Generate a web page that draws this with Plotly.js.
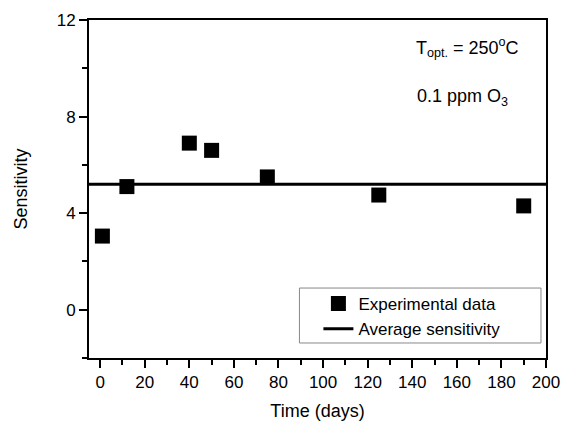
<!DOCTYPE html>
<html>
<head>
<meta charset="utf-8">
<script src="https://cdn.plot.ly/plotly-3.0.1.min.js"></script>
<style>html,body{margin:0;padding:0;background:#fff;}#chart{width:561px;height:422px;}</style>
</head>
<body>
<div id="chart"></div>
<script>
var timeDays = [1, 12, 40, 50, 75, 125, 190];
var sensitivity = [3.05, 5.1, 6.9, 6.6, 5.5, 4.75, 4.3];
var averageX = [-5, 200];
var averageY = [5.2, 5.2];
var xTicks = [0, 20, 40, 60, 80, 100, 120, 140, 160, 180, 200];
var yTicks = [0, 4, 8, 12];

var fontFam = 'Liberation Sans, Arial, sans-serif';
var traces = [
  {x: timeDays, y: sensitivity, mode: 'markers', type: 'scatter', name: 'Experimental data',
   marker: {symbol: 'square', size: 15, color: '#000'}, cliponaxis: false},
  {x: averageX, y: averageY, mode: 'lines', type: 'scatter', name: 'Average sensitivity',
   line: {color: '#000', width: 3}}
];
var axisCommon = {
  showgrid: false, zeroline: false, showline: true, linecolor: '#000', linewidth: 2,
  mirror: true, ticks: 'outside', ticklen: 8, tickwidth: 2, tickcolor: '#000',
  tickfont: {family: fontFam, size: 17, color: '#000'}
};
var layout = {
  width: 561, height: 422,
  margin: {l: 89, r: 15, t: 20, b: 64},
  paper_bgcolor: '#fff', plot_bgcolor: '#fff',
  showlegend: true,
  xaxis: Object.assign({}, axisCommon, {
    range: [-5, 200], tickvals: xTicks, ticktext: xTicks.map(String),
    minor: {dtick: 10, tick0: 0, ticks: 'outside', ticklen: 5, tickwidth: 2, tickcolor: '#000'},
    title: {text: 'Time (days)', font: {family: fontFam, size: 18, color: '#000'}, standoff: 13}
  }),
  yaxis: Object.assign({}, axisCommon, {
    range: [-2, 12], tickvals: yTicks, ticktext: yTicks.map(String),
    minor: {dtick: 2, tick0: 0, ticks: 'outside', ticklen: 5, tickwidth: 2, tickcolor: '#000'},
    title: {text: 'Sensitivity', font: {family: fontFam, size: 18, color: '#000'}, standoff: 24}
  }),
  legend: {
    x: 0.502, y: 0.213, xanchor: 'left', yanchor: 'top',
    borderwidth: 0, bgcolor: 'rgba(0,0,0,0)',
    font: {family: fontFam, size: 17, color: '#000'}, tracegroupgap: 0
  },
  shapes: [
    {type: 'rect', xref: 'paper', yref: 'paper', x0: 0.4605, x1: 0.989, y0: 0.0444, y1: 0.207,
     line: {color: '#888', width: 1}, fillcolor: 'rgba(0,0,0,0)', layer: 'below'}
  ],
  annotations: [
    {xref: 'paper', yref: 'paper', x: 0.829, y: 0.92, xanchor: 'center', yanchor: 'middle',
     text: 'T<sub>opt.</sub> = 250<sup>o</sup>C', showarrow: false,
     font: {family: fontFam, size: 18, color: '#000'}},
    {xref: 'paper', yref: 'paper', x: 0.818, y: 0.77, xanchor: 'center', yanchor: 'middle',
     text: '0.1 ppm O<sub>3</sub>', showarrow: false,
     font: {family: fontFam, size: 18, color: '#000'}}
  ]
};
Plotly.newPlot('chart', traces, layout, {displayModeBar: false, staticPlot: true});
</script>
</body>
</html>
